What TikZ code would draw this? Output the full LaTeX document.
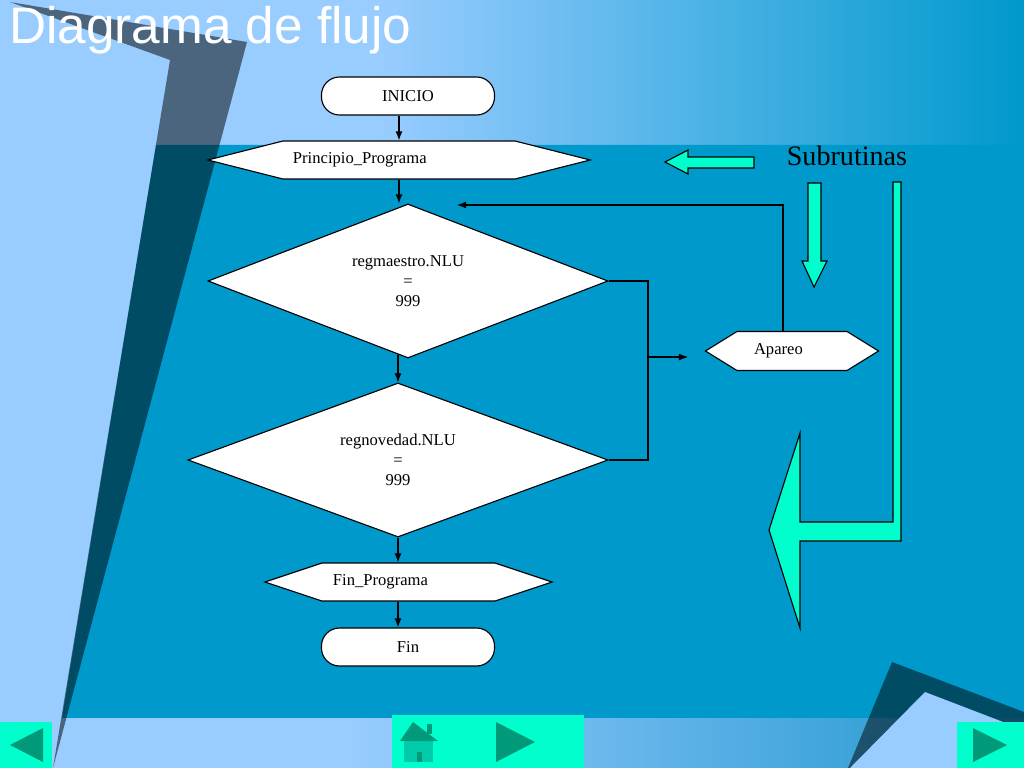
\documentclass[tikz,border=0pt]{standalone}
\usepackage{fontspec}
\setmainfont{Liberation Serif}
\newfontfamily\sansfont{Liberation Sans}
\usepackage{tikz}
\usetikzlibrary{shapes,positioning,calc}
\usetikzlibrary{shapes.geometric, shapes.symbols}
\usetikzlibrary{arrows.meta}
\definecolor{celeste}{RGB}{153,204,255}
\definecolor{azul}{RGB}{0,153,204}
\definecolor{aguamarina}{RGB}{0,255,204}
\definecolor{verdeosc}{RGB}{0,153,122}
\definecolor{verdemed}{RGB}{0,204,170}
\tikzstyle{arrow} = [line width=0.8pt,->,>={Latex[length=6.5pt,width=5pt]}]

\begin{document}
\begin{tikzpicture}[x=0.025cm, y=-0.025cm,
	bloque/.style={draw, line width=0.8pt, fill=white, font=\fontsize{11.8}{14.2}\selectfont},
	terminal/.style={bloque, rectangle, rounded corners=0.45cm, minimum width=4.325cm, minimum height=0.95cm, inner sep=0},
	decision/.style={bloque, diamond, aspect=2.6, inner sep=0, minimum height=3.85cm, align=center},
	proceso/.style={bloque, signal, signal to=west and east, inner ysep=0, minimum height=0.95cm, align=left},
	flecha/.style={draw=black, line width=0.8pt, fill=aguamarina}]
	\useasboundingbox (0,0) rectangle (1024,768);
	
	% FONDO
	
	\fill[celeste] (0,0) rectangle (1024,768);
	\shade[left color=celeste, right color=azul] (380,0) rectangle (1024,145);
	\fill[azul] (156,145) -- (1024,145) -- (1024,718) -- (62,718) -- cycle;
	\fill[celeste] (0,718) rectangle (350,768);
	\shade[left color=celeste, right color={rgb,255:red,30;green,150;blue,205}] (350,718) rectangle (1024,768);
	\fill[black, fill opacity=0.5] (10,2) -- (247,42) -- (53,768) -- (170,60) -- cycle;
	\fill[black, fill opacity=0.5] (892,662) -- (1024,712) -- (1024,768) -- (848,768) -- cycle;
	\fill[celeste] (925,692) -- (1024,730) -- (1024,768) -- (850,768) -- cycle;
	
	\node[anchor=base west, inner sep=0, text=white, font=\sansfont\fontsize{36.5}{42}\selectfont] (titulo) at (9,44) {Diagrama de flujo};
	
	% DIAGRAMA
	
	\node[terminal] (inicio) at (408,96) {INICIO};
	\node[proceso, signal pointer angle=28.4, inner xsep=0.25cm, text width=5.3cm] (principio) at (399,160) {Principio\_Programa};
	\node[decision, minimum width=10cm] (regmaestro) at (408,281) {regmaestro.NLU\\=\\999};
	\node[decision, minimum width=10.5cm] (regnovedad) at (398,460) {regnovedad.NLU\\=\\999};
	\node[proceso, signal pointer angle=63.5, inner xsep=0.425cm, text width=1.9cm, minimum height=0.975cm] (apareo) at (792,351) {Apareo};
	\node[proceso, signal pointer angle=36.87, inner xsep=0.275cm, text width=3.775cm] (finprog) at (408.5,582) {Fin\_Programa};
	\node[terminal] (fin) at (408,647) {Fin};
	
	\coordinate (union) at (648,357);
	\coordinate (entrada) at (688,357);
	\coordinate (retorno) at (457,205);
	
	\draw[arrow] (inicio.south -| principio.north) -- (principio.north);
	\draw[arrow] (principio.south) -- (principio.south |- regmaestro.north);
	\draw[arrow] ([yshift=0.1cm]regnovedad.north |- regmaestro.south) -- (regnovedad.north);
	\draw[arrow] (regnovedad.south) -- (regnovedad.south |- finprog.north);
	\draw[arrow] (regnovedad.south |- finprog.south) -- (regnovedad.south |- fin.north);
	\draw[line width=0.8pt] (regmaestro.east) -| (union) |- (regnovedad.east);
	\draw[arrow] (union) -- (entrada);
	\draw[arrow] ([xshift=-0.225cm]apareo.north) |- (retorno);
	
	% SUBRUTINAS
	
	\node[anchor=base, inner sep=0, font=\fontsize{20}{24}\selectfont] (subrutinas) at (847,166) {Subrutinas};
	\draw[flecha] (665,162) -- (688,150) -- (688,157) -- (754,157) -- (754,168) -- (688,168) -- (688,174) -- cycle;
	\draw[flecha] (808,183) -- (821,183) -- (821,261) -- (827,261) -- (814,287) -- (802,261) -- (808,261) -- cycle;
	\draw[flecha] (893,182) -- (901,182) -- (901,541) -- (800,541) -- (800,628) -- (769,530) -- (800,433) -- (800,522) -- (893,522) -- cycle;
	
	% NAVEGACION
	
	\fill[aguamarina] (0,722) rectangle (52,768);
	\fill[verdeosc] (10,745) -- (43,728) -- (43,762) -- cycle;
	\fill[aguamarina] (392,715) rectangle (584,768);
	\fill[verdemed] (404,741) rectangle (433,762);
	\fill[verdeosc] (417,752) rectangle (422,762);
	\fill[verdeosc] (427,724) rectangle (432,734);
	\fill[verdeosc] (400,741) -- (413,722) -- (438,741) -- cycle;
	\fill[verdeosc] (496,722) -- (535,742) -- (496,762) -- cycle;
	\fill[aguamarina] (957,722) rectangle (1024,768);
	\fill[verdeosc] (973,728) -- (1007,745) -- (973,762) -- cycle;
	
\end{tikzpicture}
\end{document}
